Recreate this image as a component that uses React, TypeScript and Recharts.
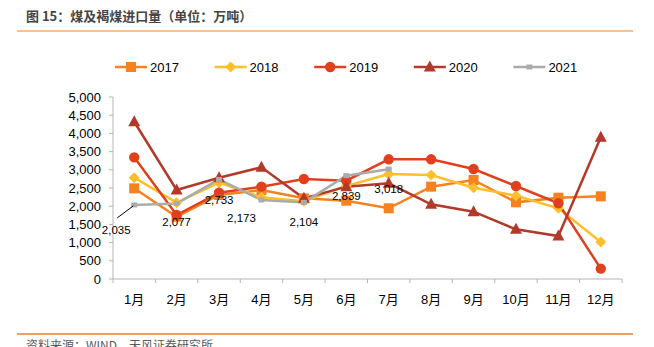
import React from 'react';
import { LineChart, Line, XAxis, YAxis, LabelList } from 'recharts';

const months = ['1月', '2月', '3月', '4月', '5月', '6月', '7月', '8月', '9月', '10月', '11月', '12月'];
const v2017 = [2491, 1712, 2308, 2445, 2216, 2152, 1942, 2537, 2720, 2106, 2234, 2271];
const v2018 = [2783, 2097, 2646, 2244, 2134, 2555, 2885, 2857, 2509, 2289, 1942, 1016];
const v2019 = [3342, 1758, 2372, 2537, 2747, 2701, 3288, 3288, 3022, 2555, 2079, 284];
const v2020 = [4321, 2445, 2783, 3068, 2216, 2537, 2628, 2051, 1850, 1364, 1181, 3893];
const v2021: (number | null)[] = [2035, 2077, 2733, 2173, 2104, 2839, 3018, null, null, null, null, null];
const yTicks = [0, 500, 1000, 1500, 2000, 2500, 3000, 3500, 4000, 4500, 5000];
const seriesNames = ['2017', '2018', '2019', '2020', '2021'];

const title = '图 15：煤及褐煤进口量（单位：万吨）';
const source = '资料来源：WIND，天风证券研究所';

// styling
const colors = ['#F5821F', '#FFBF2A', '#E1401D', '#B3392A', '#ABABAB'];
const shapes = ['square', 'diamond', 'circle', 'triangle', 'small'];
const labelOffsets = [
  [-18, 25],
  [0, 19],
  [0, 20],
  [-20, 18],
  [0, 20],
  [0, 20],
  [0, 20],
];

const W = 654;
const H = 347;
const PLOT_LEFT = 113;
const PLOT_RIGHT = 622;
const PLOT_TOP = 97;
const PLOT_BOTTOM = 279;
const BAND = (PLOT_RIGHT - PLOT_LEFT) / months.length;
const AXIS_COLOR = '#B5B5B5';
const FONT = '"Liberation Sans", Arial, "Noto Sans CJK SC", sans-serif';

const data = months.map((m, i) => ({
  month: m,
  s2017: v2017[i],
  s2018: v2018[i],
  s2019: v2019[i],
  s2020: v2020[i],
  s2021: v2021[i],
}));

function Marker({ shape, cx, cy, color }: { shape: string; cx: number; cy: number; color: string }) {
  if (shape === 'square') return <rect x={cx - 5} y={cy - 5} width={10} height={10} fill={color} />;
  if (shape === 'diamond')
    return <polygon points={`${cx},${cy - 5.5} ${cx + 5.5},${cy} ${cx},${cy + 5.5} ${cx - 5.5},${cy}`} fill={color} />;
  if (shape === 'circle') return <circle cx={cx} cy={cy} r={5.2} fill={color} />;
  if (shape === 'triangle')
    return <polygon points={`${cx},${cy - 6.5} ${cx + 6},${cy + 4.5} ${cx - 6},${cy + 4.5}`} fill={color} />;
  return <rect x={cx - 3} y={cy - 2.5} width={6} height={5} fill={color} />;
}

const makeDot = (idx: number) => (props: any) => {
  const { cx, cy, index, value } = props;
  if (cx == null || cy == null || value == null || (Array.isArray(value) && value[1] == null)) {
    return <g key={`d${idx}-${index}`} />;
  }
  return (
    <g key={`d${idx}-${index}`}>
      <Marker shape={shapes[idx]} cx={cx} cy={cy} color={colors[idx]} />
    </g>
  );
};

const XTick = (props: any) => {
  const { x, y, payload, index } = props;
  const left = x - BAND / 2;
  return (
    <g>
      <line x1={left} y1={y} x2={left} y2={y + 4} stroke={AXIS_COLOR} strokeWidth={1} />
      {index === months.length - 1 && (
        <line x1={x + BAND / 2} y1={y} x2={x + BAND / 2} y2={y + 4} stroke={AXIS_COLOR} strokeWidth={1} />
      )}
      <text x={x} y={y + 24.5} textAnchor="middle" fontSize={13} fill="#000" fontFamily={FONT}>
        {payload.value}
      </text>
    </g>
  );
};

const DataLabel = (props: any) => {
  const { x, y, index, value } = props;
  if (value == null || x == null || y == null) return null;
  const off = labelOffsets[index] || [0, 20];
  const lx = x + off[0];
  const ly = y + off[1];
  return (
    <g>
      {index === 0 && <line x1={x - 1} y1={y + 1} x2={x - 17} y2={y + 13} stroke="#000" strokeWidth={1} />}
      <text x={lx} y={ly + 4} textAnchor="middle" fontSize={11.5} fill="#000" fontFamily={FONT}>
        {Number(value).toLocaleString('en-US')}
      </text>
    </g>
  );
};

function Legend() {
  return (
    <svg width={W} height={20} style={{ position: 'absolute', left: 0, top: 57 }}>
      {seriesNames.map((name, i) => {
        const x0 = 115 + i * 99.6;
        return (
          <g key={name}>
            <line x1={x0} y1={10} x2={x0 + 32} y2={10} stroke={colors[i]} strokeWidth={2.5} />
            <Marker shape={shapes[i]} cx={x0 + 16} cy={10} color={colors[i]} />
            <text x={x0 + 35} y={14.5} fontSize={13} fill="#000" fontFamily={FONT}>
              {name}
            </text>
          </g>
        );
      })}
    </svg>
  );
}

export default function App() {
  const keys = ['s2017', 's2018', 's2019', 's2020', 's2021'];
  return (
    <div
      style={{
        position: 'absolute',
        left: 0,
        top: 0,
        width: W,
        height: H,
        background: '#fff',
        overflow: 'hidden',
      }}
    >
      <div
        style={{
          position: 'absolute',
          left: 26,
          top: 7,
          fontSize: 13,
          fontWeight: 'bold',
          color: '#454545',
          fontFamily: '"Noto Sans CJK SC", sans-serif',
          whiteSpace: 'nowrap',
          lineHeight: '18px',
        }}
      >
        {title}
      </div>
      <div style={{ position: 'absolute', left: 17, top: 30, width: 616, height: 2, background: '#FAC08F' }} />
      <Legend />
      <div style={{ position: 'absolute', left: 0, top: 0 }}>
        <LineChart
          width={W}
          height={H}
          data={data}
          margin={{ top: PLOT_TOP, right: W - PLOT_RIGHT, bottom: H - PLOT_BOTTOM - 30, left: 0 }}
        >
          <XAxis
            dataKey="month"
            interval={0}
            height={30}
            padding={{ left: BAND / 2, right: BAND / 2 }}
            tickLine={false}
            tickSize={0}
            tickMargin={0}
            axisLine={{ stroke: AXIS_COLOR, strokeWidth: 1 }}
            tick={<XTick />}
          />
          <YAxis
            width={PLOT_LEFT}
            domain={[0, 5000]}
            ticks={yTicks}
            interval={0}
            tickSize={4}
            tickMargin={8}
            axisLine={{ stroke: AXIS_COLOR, strokeWidth: 1 }}
            tickLine={{ stroke: AXIS_COLOR, strokeWidth: 1 }}
            tick={{ fontSize: 13, fill: '#000', fontFamily: FONT }}
            tickFormatter={(v: number) => v.toLocaleString('en-US')}
          />
          {keys.map((k, i) => (
            <Line
              key={k}
              type="linear"
              dataKey={k}
              stroke={colors[i]}
              strokeWidth={2.5}
              dot={makeDot(i)}
              activeDot={false}
              connectNulls={false}
              isAnimationActive={false}
            >
              {i === 4 && <LabelList dataKey={k} content={<DataLabel />} />}
            </Line>
          ))}
        </LineChart>
      </div>
      <div style={{ position: 'absolute', left: 17, top: 333, width: 616, height: 1.5, background: '#F0A060' }} />
      <div
        style={{
          position: 'absolute',
          left: 26,
          top: 337,
          fontSize: 12,
          color: '#595959',
          fontFamily: '"Noto Sans CJK SC", sans-serif',
          whiteSpace: 'nowrap',
          lineHeight: '16px',
        }}
      >
        {source}
      </div>
    </div>
  );
}
